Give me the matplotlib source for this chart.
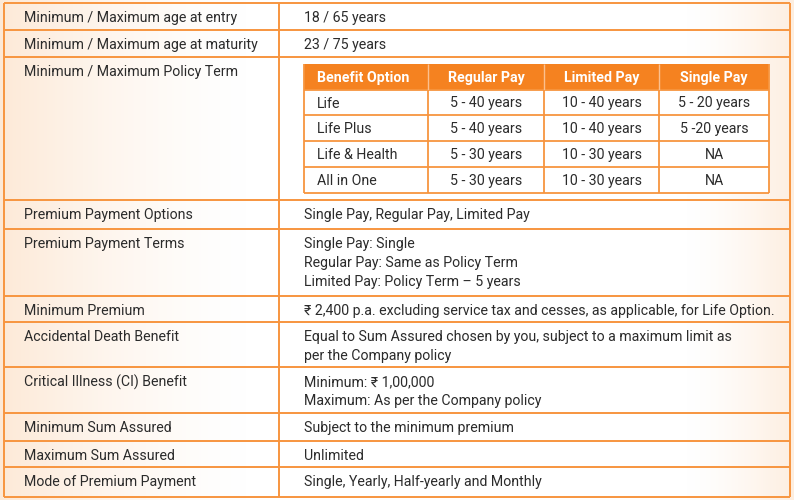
import numpy as np
import matplotlib
matplotlib.use('Agg')
import matplotlib.pyplot as plt

plt.rcParams['font.family'] = ['Roboto', 'DejaVu Sans']

# Contenu du tableau principal
row_labels = [
    'Minimum / Maximum age at entry',
    'Minimum / Maximum age at maturity',
    'Minimum / Maximum Policy Term',
    'Premium Payment Options',
    'Premium Payment Terms',
    'Minimum Premium',
    'Accidental Death Benefit',
    'Critical Illness (CI) Benefit',
    'Minimum Sum Assured',
    'Maximum Sum Assured',
    'Mode of Premium Payment',
]
row_values = [
    ['18 / 65 years'],
    ['23 / 75 years'],
    [],
    ['Single Pay, Regular Pay, Limited Pay'],
    ['Single Pay: Single', 'Regular Pay: Same as Policy Term',
     'Limited Pay: Policy Term \u2013 5 years'],
    ['\u20b9 2,400 p.a. excluding service tax and cesses, as applicable, for Life Option.'],
    ['Equal to Sum Assured chosen by you, subject to a maximum limit as',
     'per the Company policy'],
    ['Minimum: \u20b9 1,00,000', 'Maximum: As per the Company policy'],
    ['Subject to the minimum premium'],
    ['Unlimited'],
    ['Single, Yearly, Half-yearly and Monthly'],
]

# Sous-tableau : durée de la police
term_header = ['Benefit Option', 'Regular Pay', 'Limited Pay', 'Single Pay']
term_options = ['Life', 'Life Plus', 'Life & Health', 'All in One']
regular_pay = ['5 - 40 years', '5 - 40 years', '5 - 30 years', '5 - 30 years']
limited_pay = ['10 - 40 years', '10 - 40 years', '10 - 30 years', '10 - 30 years']
single_pay = ['5 - 20 years', '5 -20 years', 'NA', 'NA']

# Mise en page (pixels)
W, H = 794, 500
row_edges = [3, 30, 57, 200, 229, 296, 322, 367, 413, 441, 467, 497]
x_left, x_mid, x_right = 4, 279, 790
sub_x = [304, 428, 544, 659, 769]
sub_y = [64, 90, 115, 141, 167, 193]

orange = '#F58220'
line_col = '#F7953F'
txt_col = '#2b2b2b'
fs = 10.2
line_h = 19

fig = plt.figure(figsize=(W / 100, H / 100), dpi=100)
ax = fig.add_axes([0, 0, 1, 1])
ax.set_xlim(0, W)
ax.set_ylim(H, 0)
ax.axis('off')

# fond dégradé pêche
xx = np.linspace(0, 1, W)
yy = np.linspace(0, 1, H)
X, Y = np.meshgrid(xx, yy)
a_left = np.clip(1 - X / 0.32, 0, 1) ** 1.5 * 0.7
a_right = np.clip((X - 0.86) / 0.14, 0, 1) ** 1.5 * 0.55
alpha = np.maximum(a_left, a_right)
bg = np.zeros((H, W, 4))
bg[..., 0] = 0.99
bg[..., 1] = 0.88
bg[..., 2] = 0.78
bg[..., 3] = alpha
ax.imshow(bg, extent=[0, W, H, 0], aspect='auto', zorder=0)

# lignes du tableau principal
ax.hlines(row_edges, x_left, x_right, color=line_col, lw=1.4, zorder=2)
ax.vlines([x_left, x_mid, x_right], row_edges[0], row_edges[-1], color=line_col, lw=1.4, zorder=2)

for i, label in enumerate(row_labels):
    top = row_edges[i]
    ax.text(24, top + 15, label, fontsize=fs, color=txt_col, va='center', ha='left', zorder=3)
    for j, val in enumerate(row_values[i]):
        ax.text(304, top + 15 + j * line_h, val, fontsize=fs, color=txt_col,
                va='center', ha='left', zorder=3)

# sous-tableau
ax.add_patch(plt.Rectangle((sub_x[0], sub_y[0]), sub_x[-1] - sub_x[0], sub_y[1] - sub_y[0],
                           facecolor=orange, edgecolor='none', zorder=1))
ax.add_patch(plt.Rectangle((sub_x[0], sub_y[1]), sub_x[-1] - sub_x[0], sub_y[-1] - sub_y[1],
                           facecolor='white', edgecolor='none', zorder=1))
ax.hlines(sub_y[1:], sub_x[0], sub_x[-1], color=line_col, lw=1.3, zorder=2)
ax.vlines([sub_x[0], sub_x[-1]], sub_y[0], sub_y[-1], color=line_col, lw=1.3, zorder=2)
ax.vlines(sub_x[1:-1], sub_y[0], sub_y[1], color='#FBC08F', lw=1.0, zorder=2)
ax.vlines(sub_x[1:-1], sub_y[1], sub_y[-1], color=line_col, lw=1.3, zorder=2)

for k, h in enumerate(term_header):
    yc = (sub_y[0] + sub_y[1]) / 2 + 1
    if k == 0:
        ax.text(sub_x[0] + 13, yc, h, fontsize=fs, color='white', fontweight='bold',
                va='center', ha='left', zorder=3)
    else:
        ax.text((sub_x[k] + sub_x[k + 1]) / 2, yc, h, fontsize=fs, color='white',
                fontweight='bold', va='center', ha='center', zorder=3)

columns = [regular_pay, limited_pay, single_pay]
for r, opt in enumerate(term_options):
    yc = (sub_y[r + 1] + sub_y[r + 2]) / 2 + 1
    ax.text(sub_x[0] + 13, yc, opt, fontsize=fs, color=txt_col, va='center', ha='left', zorder=3)
    for c, col in enumerate(columns):
        ax.text((sub_x[c + 1] + sub_x[c + 2]) / 2, yc, col[r], fontsize=fs, color=txt_col,
                va='center', ha='center', zorder=3)

fig.savefig('out.png', dpi=100)
